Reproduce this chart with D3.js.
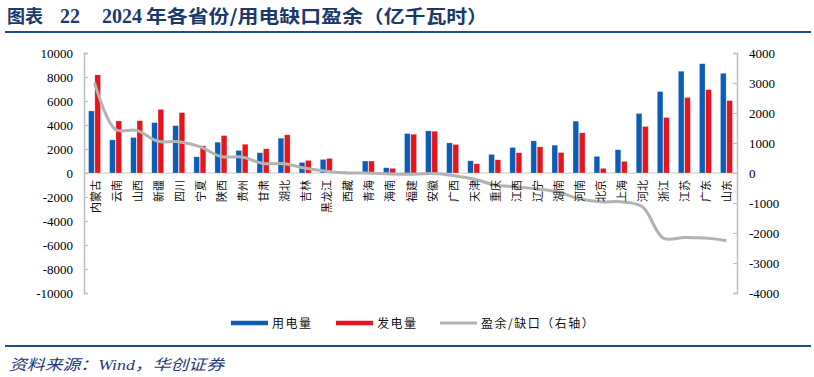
<!DOCTYPE html>
<html><head><meta charset="utf-8">
<script src="https://cdn.jsdelivr.net/npm/d3@7/dist/d3.min.js"></script>
<style>
body{margin:0;background:#fff;}
svg{display:block;}
</style></head>
<body>
<svg id="chart" width="814" height="377"></svg>
<script>
const categories = ["内蒙古","云南","山西","新疆","四川","宁夏","陕西","贵州","甘肃","湖北","吉林","黑龙江","西藏","青海","海南","福建","安徽","广西","天津","重庆","江西","辽宁","湖南","河南","北京","上海","河北","浙江","江苏","广东","山东"];
const consumption = [5170,2760,2960,4200,3950,1350,2570,1880,1690,2900,880,1130,110,995,440,3290,3510,2510,1020,1550,2130,2680,2320,4320,1385,1940,4960,6790,8480,9110,8310];
const generation  = [8180,4340,4360,5300,5030,2270,3120,2400,2020,3180,1050,1215,80,995,390,3230,3480,2380,770,1100,1690,2180,1710,3350,390,970,3880,4630,6290,6950,6040];
const surplus     = [3010,1450,1420,1060,1040,880,550,530,320,310,160,60,0,0,-30,-40,-20,-80,-200,-400,-460,-530,-630,-860,-960,-960,-1120,-2170,-2150,-2170,-2260];
const leftTicks  = [10000,8000,6000,4000,2000,0,-2000,-4000,-6000,-8000,-10000];
const rightTicks = [4000,3000,2000,1000,0,-1000,-2000,-3000,-4000];
const seriesNames = ["用电量","发电量","盈余/缺口（右轴）"];
const colors = ["#0B5DB6","#E8141C","#B3B3B3"];

const svg = d3.select("#chart");
const L = 84, R = 737, T = 53, B = 293;
const navy = "#1B3A6B";

// Title
svg.append("text").attr("x",7).attr("y",23).attr("fill",navy)
  .style("font-family","'Noto Sans CJK SC'").style("font-weight","700").style("font-size","18px").text("图表");
svg.append("text").attr("x",60).attr("y",23).attr("fill",navy)
  .style("font-family","'Liberation Serif'").style("font-weight","700").style("font-size","20px").text("22");
svg.append("text").attr("x",102).attr("y",23).attr("fill",navy)
  .style("font-family","'Liberation Serif'").style("font-weight","700").style("font-size","20px").text("2024");
svg.append("text").attr("x",146).attr("y",23).attr("fill",navy)
  .attr("textLength",342).attr("lengthAdjust","spacingAndGlyphs")
  .style("font-family","'Noto Sans CJK SC'").style("font-weight","700").style("font-size","18px").text("年各省份/用电缺口盈余（亿千瓦时）");
svg.append("line").attr("x1",5).attr("x2",811).attr("y1",32).attr("y2",32).attr("stroke","#1F4E8C").attr("stroke-width",2.2);

// Scales
const x0 = d3.scaleBand().domain(categories).range([L,R]).paddingInner(0.43).paddingOuter(0.215);
const x1 = d3.scaleBand().domain(["use","gen"]).range([0,x0.bandwidth()]).paddingInner(0.1);
const yL = d3.scaleLinear().domain([-10000,10000]).range([B,T]);
const yR = d3.scaleLinear().domain([-4000,4000]).range([B,T]);
const cx = d => x0(d) - x0.step()*x0.paddingInner()/2 + x0.step()/2;

// zero line
svg.append("line").attr("x1",L).attr("x2",R).attr("y1",yL(0)).attr("y2",yL(0)).attr("stroke","#D9D9D9").attr("stroke-width",1.5);

// Axes
const axL = d3.axisLeft(yL).tickValues(leftTicks).tickSize(-4).tickPadding(11).tickFormat(d=>String(d));
const gL = svg.append("g").attr("transform",`translate(${L},0)`).call(axL);
const axR = d3.axisRight(yR).tickValues(rightTicks).tickSize(-4).tickPadding(12).tickFormat(d=>String(d));
const gR = svg.append("g").attr("transform",`translate(${R},0)`).call(axR);
[gL,gR].forEach(g=>{
  g.select(".domain").attr("stroke","#BFBFBF").attr("stroke-width",1.5);
  g.selectAll(".tick line").attr("stroke","#BFBFBF").attr("stroke-width",1.2);
  g.selectAll(".tick text").style("font-family","'Liberation Serif'").style("font-size","13px").attr("fill","#000");
});

// Bars
const gb = svg.append("g");
categories.forEach((c,i)=>{
  [["use",consumption[i],colors[0]],["gen",generation[i],colors[1]]].forEach(([k,v,col])=>{
    gb.append("rect").attr("x",x0(c)+x1(k)).attr("width",x1.bandwidth())
      .attr("y",Math.min(yL(v),yL(0))).attr("height",Math.abs(yL(v)-yL(0)))
      .attr("fill",col).attr("stroke","#fff").attr("stroke-opacity",0.45).attr("stroke-width",0.6);
  });
});

// Line
const line = d3.line().x((d,i)=>cx(categories[i])).y(d=>yR(d)).curve(d3.curveCatmullRom.alpha(0.5));
svg.append("path").datum(surplus).attr("d",line).attr("fill","none").attr("stroke",colors[2]).attr("stroke-width",3);

// X labels (rotated)
categories.forEach(c=>{
  svg.append("text").attr("transform",`translate(${cx(c)},180) rotate(-90)`)
    .attr("text-anchor","end").attr("dominant-baseline","central")
    .style("font-family","'Noto Sans CJK SC'").style("font-size","11px").attr("fill","#111")
    .text(c);
});

// Legend
const leg = [{x:231,t:272},{x:336,t:377},{x:440,t:481}];
seriesNames.forEach((n,i)=>{
  svg.append("line").attr("x1",leg[i].x).attr("x2",leg[i].x+37).attr("y1",323).attr("y2",323)
    .attr("stroke",colors[i]).attr("stroke-width",i<2?4.5:3);
  svg.append("text").attr("x",leg[i].t).attr("y",327.5)
    .style("font-family","'Noto Sans CJK SC'").style("font-size","12px").style("letter-spacing","1.5px").attr("fill","#111").text(n);
});

// Footer
svg.append("line").attr("x1",5).attr("x2",811).attr("y1",346).attr("y2",346).attr("stroke","#1F4E8C").attr("stroke-width",2.2);
svg.append("text").attr("x",9).attr("y",370).attr("fill","#1F3A7A").attr("textLength",215).attr("lengthAdjust","spacingAndGlyphs")
  .style("font-family","'Liberation Serif','Noto Sans CJK SC'").style("font-style","italic").style("font-size","15px")
  .text("资料来源：Wind，华创证券");
</script>
</body></html>
